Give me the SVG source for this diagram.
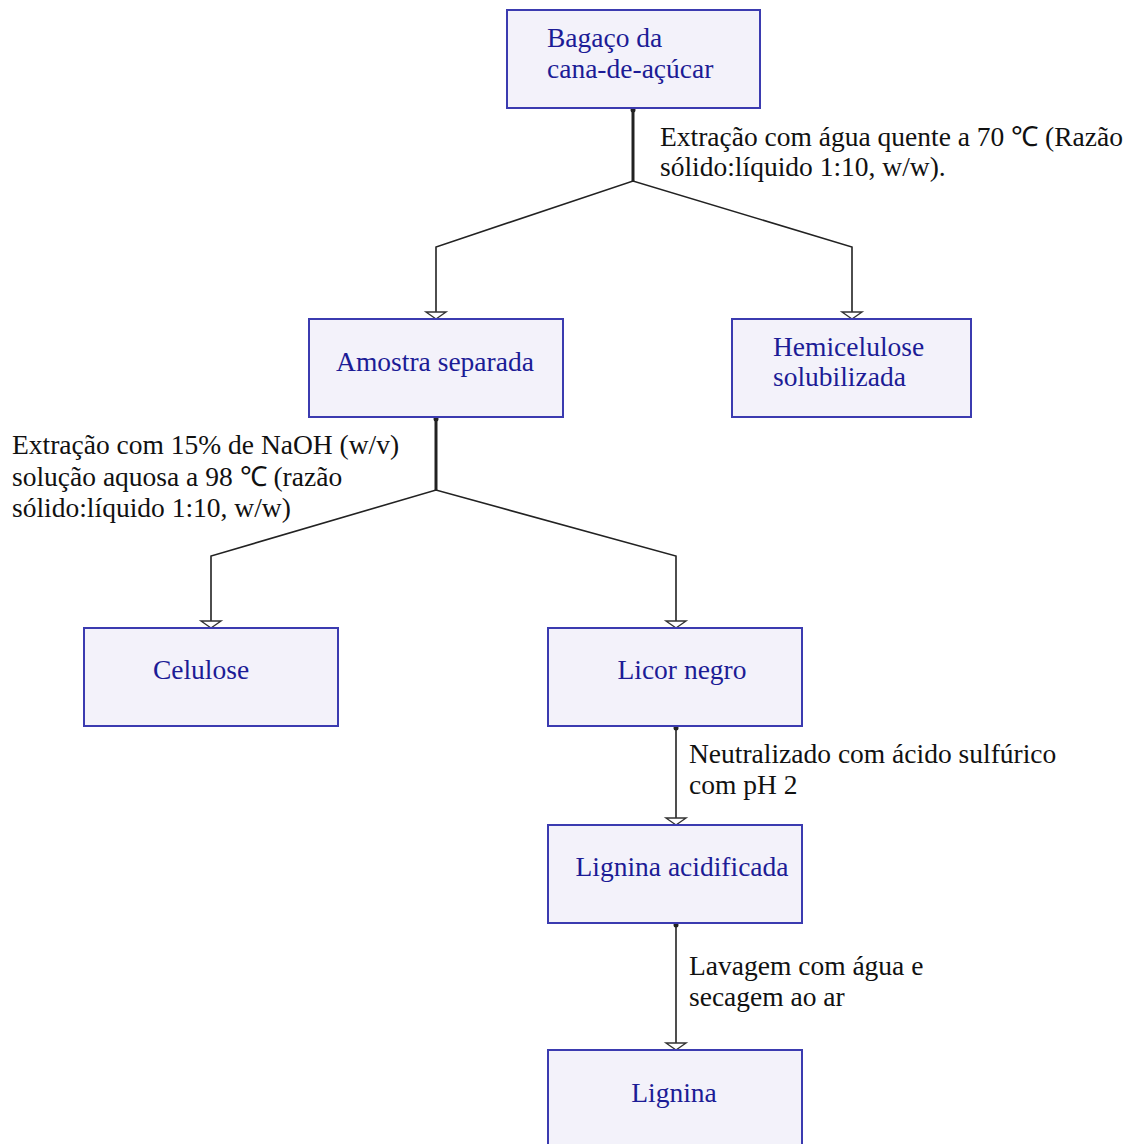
<svg xmlns="http://www.w3.org/2000/svg" width="1129" height="1144" viewBox="0 0 1129 1144">
<style>
.box{fill:#f3f2fa;stroke:#3b3bb0;stroke-width:2}
.ln{fill:none;stroke:#222;stroke-width:1.6}
.tr{fill:none;stroke:#222;stroke-width:3}
</style>
<defs>
<g id="head"><polygon points="-10,-7 10,-7 0,0" fill="#fff" stroke="#333" stroke-width="1.4"/></g>
</defs>
<rect width="1129" height="1144" fill="#fff"/>
<g id="connectors">
<line class="tr" x1="633" y1="108" x2="633" y2="181"/>
<polyline class="ln" points="436,318 436,247 633,181 852,247 852,318"/>
<line class="tr" x1="436" y1="417" x2="436" y2="490"/>
<polyline class="ln" points="211,627 211,556 436,490 676,556 676,627"/>
<line class="ln" x1="676" y1="726" x2="676" y2="824"/>
<line class="ln" x1="676" y1="923" x2="676" y2="1049"/>
<use href="#head" x="436" y="319"/>
<use href="#head" x="852" y="319"/>
<use href="#head" x="211" y="628"/>
<use href="#head" x="676" y="628"/>
<use href="#head" x="676" y="825"/>
<use href="#head" x="676" y="1050"/>
<g fill="#222"><circle cx="633" cy="110" r="2.5"/><circle cx="436" cy="419" r="2.5"/><circle cx="676" cy="728" r="2.5"/><circle cx="676" cy="925" r="2.5"/></g>
</g>
<g id="labels" font-family="Liberation Serif" font-size="27.5" fill="#111">
<text x="660" y="146">Extração com água quente a 70 ℃ (Razão</text>
<text x="660" y="176">sólido:líquido 1:10, w/w).</text>
<text x="12" y="454">Extração com 15% de NaOH (w/v)</text>
<text x="12" y="486">solução aquosa a 98 ℃ (razão</text>
<text x="12" y="517">sólido:líquido 1:10, w/w)</text>
<text x="689" y="763">Neutralizado com ácido sulfúrico</text>
<text x="689" y="794">com pH 2</text>
<text x="689" y="975">Lavagem com água e</text>
<text x="689" y="1006">secagem ao ar</text>
</g>
<g font-family="Liberation Serif" font-size="27.5" fill="#1c1c96">
<g id="n-bagaco"><rect class="box" x="507" y="10" width="253" height="98"/>
<text x="547" y="47">Bagaço da</text><text x="547" y="77.5">cana-de-açúcar</text></g>
<g id="n-amostra"><rect class="box" x="309" y="319" width="254" height="98"/>
<text x="435" y="371" text-anchor="middle">Amostra separada</text></g>
<g id="n-hemi"><rect class="box" x="732" y="319" width="239" height="98"/>
<text x="773" y="356">Hemicelulose</text><text x="773" y="386">solubilizada</text></g>
<g id="n-celulose"><rect class="box" x="84" y="628" width="254" height="98"/>
<text x="201" y="679" text-anchor="middle">Celulose</text></g>
<g id="n-licor"><rect class="box" x="548" y="628" width="254" height="98"/>
<text x="682" y="679" text-anchor="middle">Licor negro</text></g>
<g id="n-lignina-acid"><rect class="box" x="548" y="825" width="254" height="98"/>
<text x="682" y="876" text-anchor="middle">Lignina acidificada</text></g>
<g id="n-lignina"><rect class="box" x="548" y="1050" width="254" height="100"/>
<text x="674" y="1102" text-anchor="middle">Lignina</text></g>
</g>
</svg>
